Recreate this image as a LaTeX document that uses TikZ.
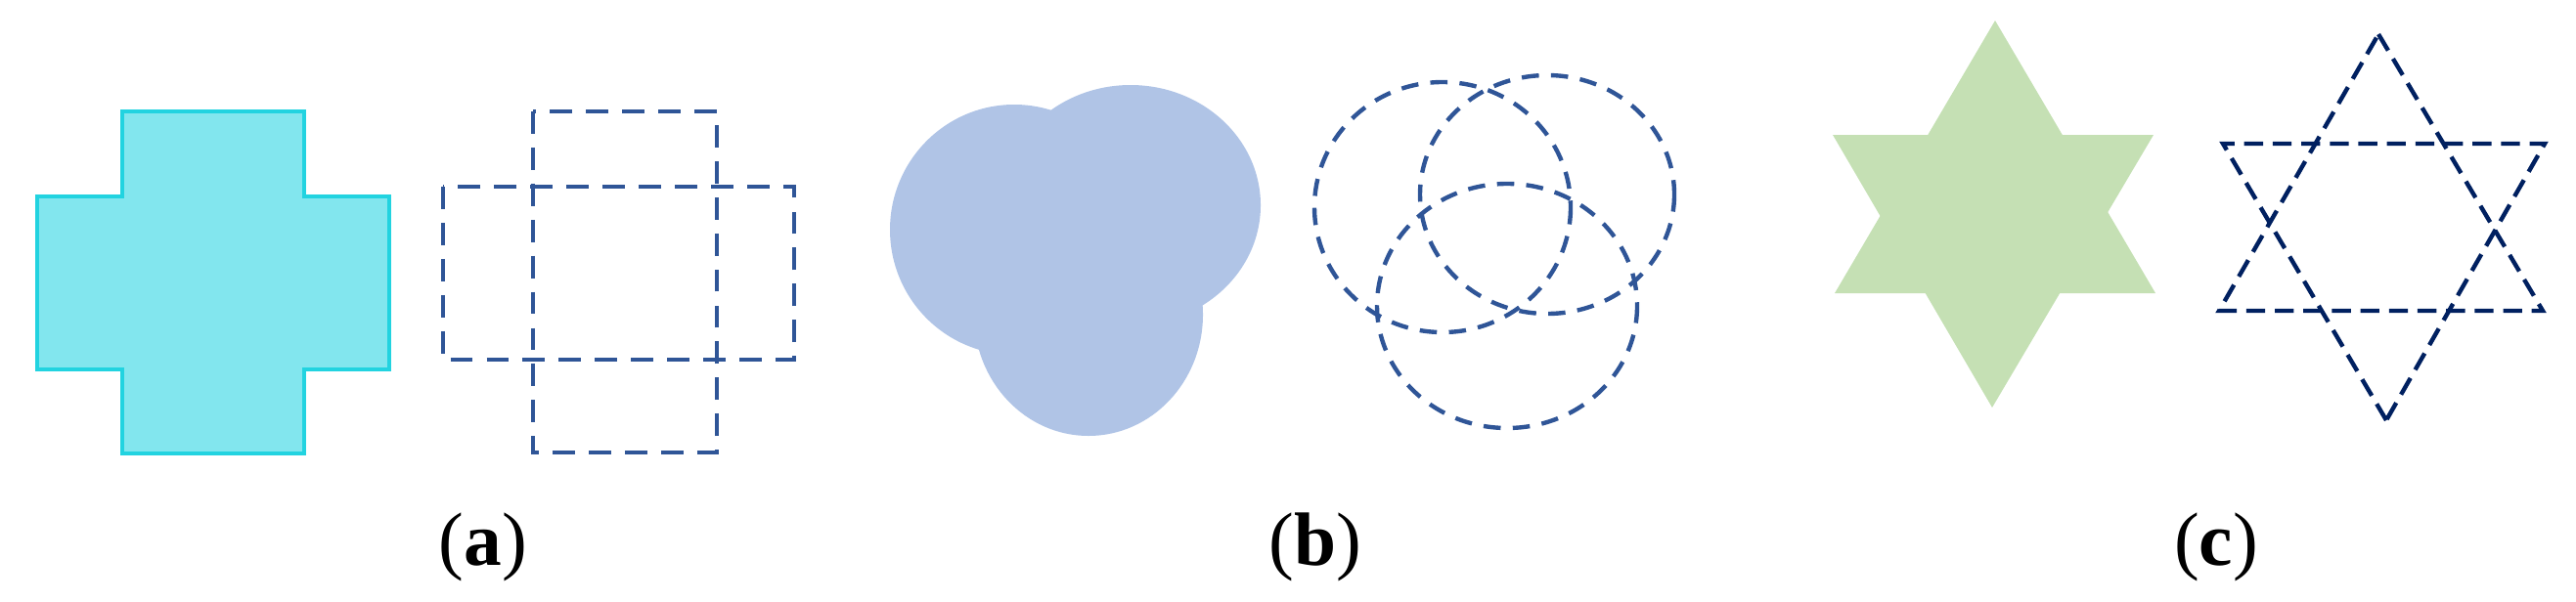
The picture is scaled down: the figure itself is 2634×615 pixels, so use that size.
\documentclass[tikz,border=0pt]{standalone}
\usepackage{fontspec}
\setmainfont{Liberation Serif}
\definecolor{crossline}{HTML}{22D3E0}
\definecolor{crossfill}{HTML}{82E6EE}
\definecolor{blobfill}{HTML}{B0C4E6}
\definecolor{dashblue}{HTML}{2F5597}
\definecolor{starfill}{HTML}{C5E0B4}
\definecolor{starline}{HTML}{002060}
\begin{document}
\begin{tikzpicture}[x=0.01cm, y=-0.01cm,
		dashbox/.style = {draw=dashblue, line width=1.25pt, dash pattern=on 6.5pt off 4pt},
		dashring/.style = {draw=dashblue, line width=1.25pt, dash pattern=on 5pt off 3.5pt},
		dashstar/.style = {draw=starline, line width=1.25pt, dash pattern=on 5.5pt off 2.8pt},
		caption/.style = {anchor=base, font=\fontsize{22}{26}\selectfont}]
		\useasboundingbox (0,0) rectangle (2634,615);
		% (a) cross and its two rectangles
		\filldraw[fill=crossfill, draw=crossline, line width=1.4pt]
			(125,114) -- (311,114) -- (311,201) -- (398,201) -- (398,378) -- (311,378)
			-- (311,464) -- (125,464) -- (125,378) -- (38,378) -- (38,201) -- (125,201) -- cycle;
		\draw[dashbox] (453,191) rectangle (812,368);
		\draw[dashbox] (545,114) rectangle (733,463);
		% (b) three ellipses
		\fill[blobfill] (1037,235) ellipse [x radius=127, y radius=128];
		\fill[blobfill] (1156,210) ellipse [x radius=133, y radius=123];
		\fill[blobfill] (1113,322) ellipse [x radius=117, y radius=124];
		\draw[dashring] (1475,212) ellipse [x radius=131, y radius=128];
		\draw[dashring] (1582,199) ellipse [x radius=130, y radius=122];
		\draw[dashring] (1541,313) ellipse [x radius=133, y radius=125];
		% (c) two triangles
		\fill[starfill] (2040,21) -- (2204,300) -- (1876,300) -- cycle;
		\fill[starfill] (2037,417) -- (1874,138) -- (2202,138) -- cycle;
		\draw[dashstar] (2432,35) -- (2600,318) -- (2269,318) -- cycle;
		\draw[dashstar] (2440,430) -- (2273,147) -- (2602,147) -- cycle;
		% captions
		\node[caption] (capa) at (494,578) {(\textbf{a})};
		\node[caption] (capb) at (1345,578) {(\textbf{b})};
		\node[caption] (capc) at (2266,578) {(\textbf{c})};
\end{tikzpicture}
\end{document}
